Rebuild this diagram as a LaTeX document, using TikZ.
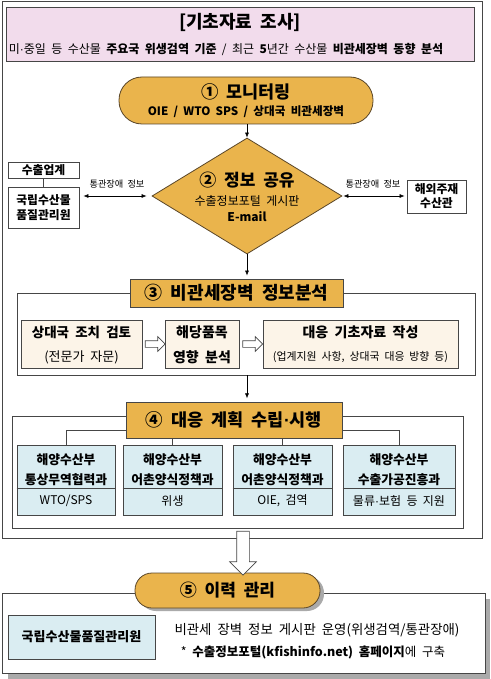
\documentclass[tikz,border=0pt]{standalone}
\usepackage{fontspec}
\setmainfont[WordSpace=2]{Noto Sans CJK KR}
\newfontfamily\latinfont{Liberation Sans}
\newcommand\mydot{{\latinfont ·}}
\usetikzlibrary{shapes.geometric,shapes.arrows,calc,arrows.meta}
\definecolor{pinkbg}{RGB}{242,220,236}
\definecolor{orng}{RGB}{234,180,76}
\definecolor{beige}{RGB}{252,244,232}
\definecolor{lblue}{RGB}{218,237,242}
\definecolor{edge}{RGB}{70,70,70}
\definecolor{brownedge}{RGB}{90,70,40}
\definecolor{shadowgray}{RGB}{170,170,170}
\tikzset{
  frame/.style={draw=edge, line width=0.8pt, inner sep=0, fill=white},
  plainbox/.style={draw=edge, line width=0.8pt, inner sep=0, fill=white, align=center},
  pill/.style={draw=brownedge, line width=0.8pt, fill=orng, inner sep=0, rounded corners=17pt},
  otitle/.style={draw=edge, line width=0.8pt, fill=orng, inner sep=0, align=center},
  beigebox/.style={draw=edge, line width=0.8pt, fill=beige, inner sep=0, align=center},
  bluebox/.style={draw=edge, line width=0.8pt, fill=lblue, inner sep=0, align=center},
  txt/.style={inner sep=0, align=center},
  conn/.style={-{Latex[length=5pt,width=4pt]}, line width=0.6pt, draw=black},
  dbl/.style={{Latex[length=5pt,width=4pt]}-{Latex[length=5pt,width=4pt]}, line width=0.6pt},
  harrow/.style={single arrow, draw=edge, fill=white, line width=0.7pt, inner sep=0, inner ysep=3pt, single arrow head extend=4pt, minimum height=20pt},
  bigarrow/.style={single arrow, draw=edge, fill=white, line width=0.7pt, inner sep=0, inner ysep=6pt, single arrow head extend=7pt, single arrow tip angle=90, minimum height=44pt},
  bl/.style={txt, font=\bfseries\fontsize{12.8}{14}\selectfont},
  bs/.style={txt, font=\fontsize{12}{14}\selectfont},
}
\begin{document}
\begin{tikzpicture}[x=1pt,y=-1pt]
\useasboundingbox (0,0) rectangle (490,679);
% outer frame
\node[frame, minimum width=480, minimum height=537] (outer) at (242,269.5) {};
% pink header
\node[draw=edge, line width=0.8pt, fill=pinkbg, inner sep=0, minimum width=468, minimum height=54] (head) at (240,34) {};
\node[txt, font=\bfseries\fontsize{18}{20}\selectfont] (headtitle) at (240,22) {[기초자료 조사]};
\node[txt, font=\fontsize{12}{14}\selectfont] (headsub) at (226,49) {미\mydot 중일 등 수산물 \textbf{주요국 위생검역 기준} / 최근 \textbf{5}년간 수산물 \textbf{비관세장벽 동향 분석}};
% 1 monitoring
\node[pill, minimum width=254, minimum height=47, rounded corners=23pt] (mon) at (246,100.5) {};
\node[txt, font=\bfseries\fontsize{17.4}{19}\selectfont] (montitle) at (246,92) {① 모니터링};
\node[txt, font=\bfseries\fontsize{11.6}{13}\selectfont] (monsub) at (246,112) {OIE / WTO SPS / 상대국 비관세장벽};
% 2 diamond
\node[diamond, draw=brownedge, line width=0.8pt, fill=orng, inner sep=0, minimum width=190, minimum height=116] (dia) at (247,196) {};
\node[txt, font=\bfseries\fontsize{17}{19}\selectfont] (diatitle) at (247,180) {② 정보 공유};
\node[txt, font=\fontsize{12}{14}\selectfont] (diasub) at (247,201) {수출정보포털 게시판};
\node[txt, font=\bfseries\fontsize{12}{14}\selectfont] (diamail) at (247,217) {E-mail};
% left boxes
\node[plainbox, minimum width=71, minimum height=16, font=\bfseries\fontsize{11.8}{13}\selectfont] (exp) at (43.5,170) {수출업계};
\node[plainbox, minimum width=71, minimum height=41, font=\bfseries\fontsize{11.8}{15}\selectfont] (nfqs) at (43.5,207.5) {국립수산물\\품질관리원};
\draw[line width=0.6pt, draw=edge] (exp.south) -- (nfqs.north);
% right box
\node[plainbox, minimum width=59, minimum height=33, font=\bfseries\fontsize{11.8}{14}\selectfont] (ovs) at (436.5,196.5) {해외주재\\수산관};
% double arrows
\draw[dbl, shorten <=4pt, shorten >=5pt] (nfqs.east |- dia.center) -- (dia.west);
\draw[dbl, shorten <=1pt, shorten >=2pt] (dia.east) -- (ovs.west |- dia.center);
\node[txt, font=\fontsize{9.2}{10}\selectfont] (lbl1) at (117,184) {통관장애 정보};
\node[txt, font=\fontsize{9.2}{10}\selectfont] (lbl2) at (373,184) {통관장애 정보};
\draw[conn] (mon.south -| dia.north) -- (dia.north);
% 3 container
\node[frame, minimum width=458, minimum height=82] (c3) at (246,334) {};
\node[otitle, minimum width=213, minimum height=28, font=\bfseries\fontsize{18}{20}\selectfont] (t3) at (236.5,293) {③ 비관세장벽 정보분석};
\draw[conn, shorten >=3pt] (dia.south) -- (dia.south |- t3.north);
\node[beigebox, minimum width=121, minimum height=48] (ba) at (81.5,344) {};
\node[txt, font=\bfseries\fontsize{13.5}{15}\selectfont] at (81.5,332) {상대국 조치 검토};
\node[txt, font=\fontsize{13}{15}\selectfont] at (81.5,357) {(전문가 자문)};
\node[beigebox, minimum width=74, minimum height=48] (bb) at (202,344) {};
\node[txt, font=\bfseries\fontsize{14}{15}\selectfont] at (202,332) {해당품목};
\node[txt, font=\bfseries\fontsize{14}{15}\selectfont] at (202,357) {영향 분석};
\node[beigebox, minimum width=195, minimum height=48] (bc) at (360.5,344) {};
\node[txt, font=\bfseries\fontsize{14}{15}\selectfont] at (360.5,332) {대응 기초자료 작성};
\node[txt, font=\fontsize{10.9}{12}\selectfont] at (360.5,357) {(업계지원 사항, 상대국 대응 방향 등)};
\node[harrow] (ab) at ($(ba.east)!0.5!(bb.west)$) {};
\node[harrow] (bcar) at ($(bb.east)!0.5!(bc.west)$) {};
% 4 container
\node[frame, minimum width=451, minimum height=112] (c4) at (237.5,472) {};
\draw[conn, shorten >=4pt] (c3.south -| dia.south) -- ++(0,27);
\node[bluebox, minimum width=98, minimum height=70] (b1) at (66,480) {};
\node[bluebox, minimum width=99, minimum height=70] (b2) at (172.5,480) {};
\node[bluebox, minimum width=99, minimum height=70] (b3) at (282.5,480) {};
\node[bluebox, minimum width=112, minimum height=70] (b4) at (399,480) {};
\foreach \b in {b1,b2,b3,b4}{
  \draw[draw=edge, line width=0.7pt] ([yshift=-8pt]\b.west) -- ([yshift=-8pt]\b.east);
}
\draw[draw=edge, line width=0.7pt] (b1.north) -- ++(0,-14) -| (b4.north);
\draw[draw=edge, line width=0.7pt] (b2.north) -- ++(0,-14);
\draw[draw=edge, line width=0.7pt] (b3.north) -- ++(0,-14);
\node[otitle, minimum width=216, minimum height=36, font=\bfseries\fontsize{17.5}{19}\selectfont] (t4) at (234,420) {④ 대응 계획 수립\mydot 시행};
\node[bl] at (66,460) {해양수산부};
\node[bl] at (66,480) {통상무역협력과};
\node[bs] at (66,501) {WTO/SPS};
\node[bl] at (172.5,460) {해양수산부};
\node[bl] at (172.5,480) {어촌양식정책과};
\node[bs] at (172.5,501) {위생};
\node[bl] at (282.5,460) {해양수산부};
\node[bl] at (282.5,480) {어촌양식정책과};
\node[bs] at (282.5,501) {OIE, 검역};
\node[bl] at (399,460) {해양수산부};
\node[bl] at (399,480) {수출가공진흥과};
\node[bs] at (399,501) {물류\mydot 보험 등 지원};
% 5
\fill[shadowgray] (8,599) rectangle (490,679);
\node[frame, minimum width=483, minimum height=80] (c5) at (243.5,633) {};
\fill[shadowgray, rounded corners=17pt] (139,576) rectangle (324,611);
\node[pill, minimum width=185, minimum height=35, rounded corners=17pt, font=\bfseries\fontsize{17}{19}\selectfont] (t5) at (227.5,590.5) {⑤ 이력 관리};
\node[bigarrow, rotate=-90] (down) at (243,550) {};
\node[bluebox, minimum width=147, minimum height=44, font=\bfseries\fontsize{13}{15}\selectfont] (nfqs2) at (81.5,637) {국립수산물품질관리원};
\node[txt, font=\fontsize{13.4}{15}\selectfont] (l51) at (317,630) {비관세 장벽 정보 게시판 운영(위생검역/통관장애)};
\node[txt, font=\fontsize{12.5}{14}\selectfont] (l52) at (313,652) {* \textbf{수출정보포털(kfishinfo.net) 홈페이지}에 구축};
\end{tikzpicture}
\end{document}
